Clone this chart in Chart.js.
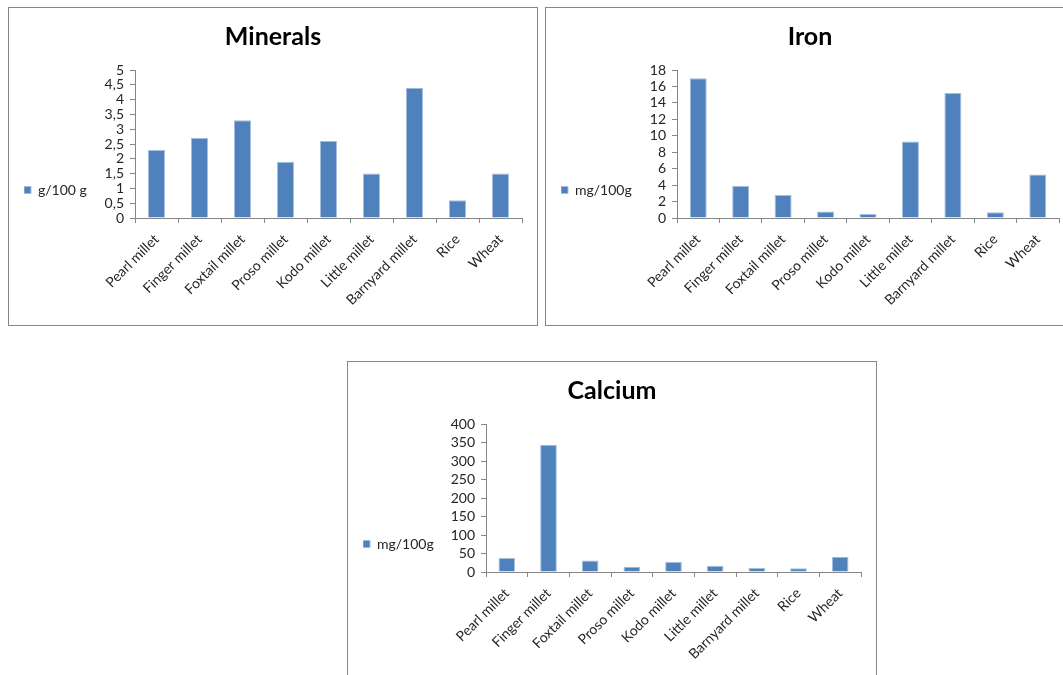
<!DOCTYPE html>
<html>
<head>
<meta charset="utf-8">
<script src="https://cdn.jsdelivr.net/npm/chart.js@4/dist/chart.umd.min.js"></script>
<style>
  html, body { margin: 0; padding: 0; background: #fff; overflow: hidden; width: 1063px; height: 675px; }
  .frame { position: absolute; border: 1px solid #878787; width: 528px; height: 317px; background: #fff; }
  .frame canvas { display: block; }
</style>
</head>
<body>
<div class="frame" style="left:8px; top:7px;"><canvas id="minerals" width="528" height="317"></canvas></div>
<div class="frame" style="left:545px; top:7px;"><canvas id="iron" width="528" height="317"></canvas></div>
<div class="frame" style="left:347px; top:361px;"><canvas id="calcium" width="528" height="317"></canvas></div>
<script>
// Grains compared in every panel
const categories = ['Pearl millet', 'Finger millet', 'Foxtail millet', 'Proso millet',
  'Kodo millet', 'Little millet', 'Barnyard millet', 'Rice', 'Wheat'];

// Content per 100 g of grain
const mineralValues = [2.3, 2.7, 3.3, 1.9, 2.6, 1.5, 4.4, 0.6, 1.5];   // g/100 g
const ironValues    = [17.0, 3.9, 2.8, 0.8, 0.5, 9.3, 15.2, 0.7, 5.3];  // mg/100g
const calciumValues = [38, 344, 31, 14, 27, 17, 11, 10, 41];           // mg/100g

// Value-axis tick labels (decimal comma)
const mineralTicks = ['0', '0,5', '1', '1,5', '2', '2,5', '3', '3,5', '4', '4,5', '5'];
const ironTicks    = ['0', '2', '4', '6', '8', '10', '12', '14', '16', '18'];
const calciumTicks = ['0', '50', '100', '150', '200', '250', '300', '350', '400'];

const BAR_BLUE = '#4F81BD';
const AXIS_GREY = '#868686';
const TEXT = '#262626';
const FONT = 'Lato, "Open Sans", sans-serif';
const SIDE_PAD = 15;

function panel(id, title, unit, values, tickLabels, max, step, plotLeft) {
  return new Chart(document.getElementById(id), {
    type: 'bar',
    data: {
      labels: categories,
      datasets: [{
        label: unit,
        data: values,
        backgroundColor: BAR_BLUE,
        borderColor: '#A5BEDD',
        borderWidth: 1,
        categoryPercentage: 1,
        barPercentage: 0.4
      }]
    },
    options: {
      responsive: false,
      animation: false,
      layout: { padding: { left: SIDE_PAD, right: SIDE_PAD, top: 0, bottom: 0 } },
      plugins: {
        tooltip: { enabled: false },
        title: {
          display: true,
          text: title,
          color: '#000',
          font: { family: FONT, size: 25, weight: 'bold', lineHeight: 1.2 },
          padding: { top: 13.5, bottom: 18.5 }
        },
        legend: {
          display: true,
          position: 'left',
          align: 'center',
          title: { display: true, text: '', font: { size: 14, lineHeight: 1.2 }, padding: { top: 30.2, bottom: 0 } },
          labels: {
            boxWidth: 7,
            boxHeight: 7,
            padding: 0,
            color: TEXT,
            font: { family: FONT, size: 14 }
          }
        }
      },
      scales: {
        x: {
          offset: true,
          border: { display: true, color: AXIS_GREY, width: 1 },
          grid: { display: true, offset: true, drawOnChartArea: false, drawTicks: true, tickLength: 5, color: AXIS_GREY },
          ticks: {
            autoSkip: false, maxRotation: 45, minRotation: 45, padding: 8,
            color: TEXT, font: { family: FONT, size: 14 }
          },
          afterFit: (s) => { s.height = 107; }
        },
        y: {
          min: 0, max: max,
          border: { display: true, color: AXIS_GREY, width: 1 },
          grid: { display: true, drawOnChartArea: false, drawTicks: true, tickLength: 5, color: AXIS_GREY },
          ticks: {
            stepSize: step, autoSkip: false, padding: 6, color: TEXT,
            font: { family: FONT, size: 14 },
            callback: (v, i) => tickLabels[i]
          },
          // the plot starts at a fixed x; the axis takes what the legend leaves
          afterFit: (s) => {
            const lw = s.chart.legend ? s.chart.legend.width : 0;
            s.width = plotLeft - SIDE_PAD - lw;
          }
        }
      }
    }
  });
}

panel('minerals', 'Minerals', 'g/100 g', mineralValues, mineralTicks, 5, 0.5, 126);
panel('iron', 'Iron', 'mg/100g', ironValues, ironTicks, 18, 2, 131);
panel('calcium', 'Calcium', 'mg/100g', calciumValues, calciumTicks, 400, 50, 138);
</script>
</body>
</html>
